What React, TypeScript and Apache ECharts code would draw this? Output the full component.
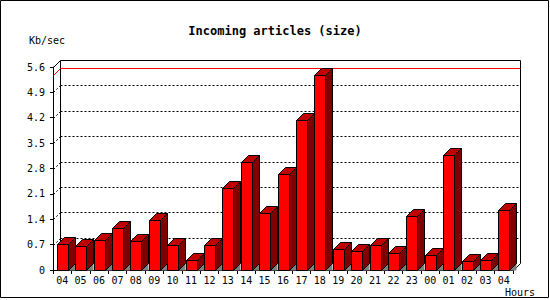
import React, { useEffect, useRef } from "react";
import * as echarts from "echarts";

const hours = ["04","05","06","07","08","09","10","11","12","13","14","15","16","17","18","19","20","21","22","23","00","01","02","03","04"];
const sizes = [0.71,0.66,0.83,1.15,0.79,1.37,0.68,0.27,0.68,2.26,2.98,1.57,2.65,4.15,5.37,0.57,0.52,0.68,0.46,1.49,0.41,3.17,0.24,0.27,1.65];
const yTicks = [0, 0.7, 1.4, 2.1, 2.8, 3.5, 4.2, 4.9, 5.6];
const yMax = 5.6;
const maxValue = Math.max(...sizes);

const DEPTH = 7;
const BAR_W = 11;
const FONT = '"DejaVu Sans Mono", monospace';

const px = (v: number) => Math.round(v) + 0.5;

export default function App() {
  const ref = useRef<HTMLDivElement>(null);
  useEffect(() => {
    document.body.style.margin = "0";
    const chart = echarts.init(ref.current!, null, { renderer: "svg" });
    chart.setOption({
      animation: false,
      backgroundColor: "#ffffff",
      title: {
        text: "Incoming articles (size)",
        left: "center",
        top: 20,
        textStyle: { fontFamily: FONT, fontWeight: "bold", fontSize: 12, color: "#000" },
      },
      grid: { left: 53, right: 37, top: 67, bottom: 30, containLabel: false },
      xAxis: {
        type: "category",
        data: hours,
        boundaryGap: true,
        axisLine: { show: true, lineStyle: { color: "#000", width: 1 } },
        axisTick: { show: true, length: 4, lineStyle: { color: "#000" } },
        axisLabel: { interval: 0, margin: 5, color: "#000", fontFamily: FONT, fontSize: 10 },
        splitLine: { show: false },
      },
      yAxis: {
        type: "value",
        min: 0,
        max: yMax,
        interval: 0.7,
        axisLine: { show: true, lineStyle: { color: "#000", width: 1 } },
        axisTick: { show: true, length: 3, lineStyle: { color: "#000" } },
        axisLabel: {
          margin: 8,
          color: "#000",
          fontFamily: FONT,
          fontSize: 10,
          formatter: (v: number) => (v === 0 ? "0" : v.toFixed(1)),
        },
        splitLine: { show: false },
      },
      graphic: [
        { type: "rect", shape: { x: 0.5, y: 0.5, width: 548, height: 297 }, style: { fill: "none", stroke: "#000", lineWidth: 1 }, silent: true },
        { type: "text", x: 29, y: 40, style: { text: "Kb/sec", fontFamily: FONT, fontSize: 10, fill: "#000", align: "left", verticalAlign: "middle" } },
        { type: "text", x: 505, y: 292, style: { text: "Hours", fontFamily: FONT, fontSize: 10, fill: "#000", align: "left", verticalAlign: "middle" } },
      ],
      series: [
        {
          type: "custom",
          name: "frame",
          silent: true,
          data: yTicks.map((t) => [0, t]),
          encode: { x: 0, y: 1 },
          renderItem: (params: any, api: any) => {
            const cs = params.coordSys;
            const t = api.value(1);
            const y = api.coord([0, t])[1];
            const x0 = cs.x;
            const x1 = cs.x + cs.width;
            const children: any[] = [];
            if (t === 0) {
              const yb = cs.y + cs.height;
              children.push(
                { type: "line", shape: { x1: px(x0 + DEPTH), y1: px(cs.y - DEPTH), x2: px(x0 + DEPTH), y2: px(yb - DEPTH) }, style: { stroke: "#000", lineWidth: 1 } },
                { type: "line", shape: { x1: px(x1 + DEPTH), y1: px(cs.y - DEPTH), x2: px(x1 + DEPTH), y2: px(yb - DEPTH) }, style: { stroke: "#000", lineWidth: 1 } },
                { type: "line", shape: { x1: px(x1), y1: px(yb), x2: px(x1 + DEPTH), y2: px(yb - DEPTH) }, style: { stroke: "#000", lineWidth: 1 } }
              );
            } else if (t >= yMax) {
              children.push(
                { type: "line", shape: { x1: px(x0 + DEPTH), y1: px(y - DEPTH), x2: px(x1 + DEPTH), y2: px(y - DEPTH) }, style: { stroke: "#000", lineWidth: 1 } },
                { type: "line", shape: { x1: px(x0), y1: px(y), x2: px(x0 + DEPTH), y2: px(y - DEPTH) }, style: { stroke: "#000", lineWidth: 1 } }
              );
            } else {
              children.push(
                { type: "line", shape: { x1: px(x0 + DEPTH), y1: px(y - DEPTH), x2: px(x1 + DEPTH), y2: px(y - DEPTH) }, style: { stroke: "#000", lineWidth: 1, lineDash: [2, 2] } },
                { type: "line", shape: { x1: px(x0), y1: px(y), x2: px(x0 + DEPTH), y2: px(y - DEPTH) }, style: { stroke: "#000", lineWidth: 1, lineDash: [2, 2] } }
              );
            }
            return { type: "group", children };
          },
          z: 1,
        },
        {
          type: "custom",
          name: "max",
          silent: true,
          data: [[0, maxValue]],
          encode: { x: 0, y: 1 },
          renderItem: (params: any, api: any) => {
            const cs = params.coordSys;
            const y = api.coord([0, api.value(1)])[1];
            const x0 = cs.x;
            const x1 = cs.x + cs.width;
            return {
              type: "group",
              children: [
                { type: "line", shape: { x1: px(x0), y1: px(y), x2: px(x0 + DEPTH), y2: px(y - DEPTH) }, style: { stroke: "#ff0000", lineWidth: 1 } },
                { type: "line", shape: { x1: px(x0 + DEPTH), y1: px(y - DEPTH), x2: px(x1 + DEPTH), y2: px(y - DEPTH) }, style: { stroke: "#ff0000", lineWidth: 1 } },
              ],
            };
          },
          z: 2,
        },
        {
          type: "custom",
          name: "Kb/sec",
          data: sizes.map((v, i) => [i, v]),
          encode: { x: 0, y: 1 },
          renderItem: (params: any, api: any) => {
            const idx = api.value(0);
            const v = api.value(1);
            const top = api.coord([idx, v]);
            const base = api.coord([idx, 0]);
            const xl = px(top[0] - BAR_W / 2);
            const xr = xl + BAR_W;
            const yt = px(top[1]);
            const yb = px(base[1]);
            const d = DEPTH;
            return {
              type: "group",
              children: [
                { type: "polygon", shape: { points: [[xr, yb], [xr + d, yb - d], [xr + d, yb]] }, style: { fill: "#808080", stroke: "none" } },
                { type: "polygon", shape: { points: [[xr, yt], [xr + d, yt - d], [xr + d, yb - d], [xr, yb]] }, style: { fill: "#800000", stroke: "#000", lineWidth: 1 } },
                { type: "polygon", shape: { points: [[xl, yt], [xl + d, yt - d], [xr + d, yt - d], [xr, yt]] }, style: { fill: "#c00000", stroke: "#000", lineWidth: 1 } },
                { type: "rect", shape: { x: xl, y: yt, width: BAR_W, height: yb - yt }, style: { fill: "#ff0000", stroke: "#000", lineWidth: 1 } },
              ],
            };
          },
          z: 3,
        },
      ],
    });
    return () => chart.dispose();
  }, []);
  return <div ref={ref} style={{ position: "absolute", left: 0, top: 0, width: 550, height: 300, background: "#fff" }} />;
}
